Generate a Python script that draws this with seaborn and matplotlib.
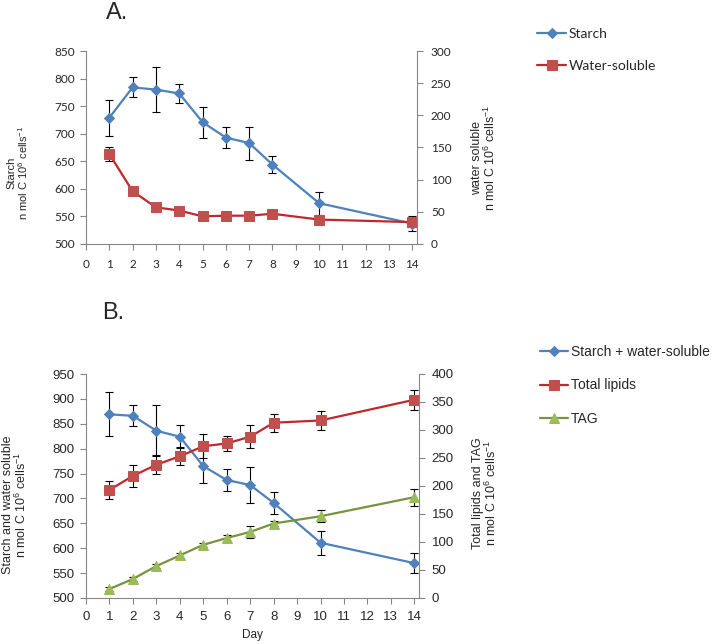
import matplotlib
matplotlib.use('Agg')
import matplotlib.pyplot as plt
import seaborn as sns

# Days sampled
days = [1, 2, 3, 4, 5, 6, 7, 8, 10, 14]

# Panel A
starch = [729, 784, 780, 773, 721, 693, 683, 644, 574, 537]
starch_err = [33, 18, 41, 18, 28, 19, 30, 16, 21, 14]
water_soluble = [140, 82, 57, 52, 43, 44, 44, 47, 38, 34]
water_soluble_err = [11, 4, 7.5, 3, 2, 2, 2, 2, 3, 7]

# Panel B
starch_ws = [869, 866, 836, 824, 765, 737, 727, 691, 611, 570]
starch_ws_err = [44, 21, 51, 23, 33, 22, 36, 22, 24, 20]
total_lipids = [193, 218, 238, 253, 271, 276, 288, 313, 317, 354]
total_lipids_err = [15.5, 19, 16.5, 16, 21.7, 13, 21, 16, 17, 18]
tag = [16, 34, 57, 76, 95, 107, 118, 133, 146, 180]
tag_err = [4, 3, 3, 4, 4, 6, 11, 4, 11, 15]

sns.set_style('white')
plt.rcParams['font.family'] = ['Liberation Sans', 'DejaVu Sans']
plt.rcParams['mathtext.fontset'] = 'custom'
plt.rcParams['mathtext.rm'] = 'Liberation Sans'

BLUE = '#4F81BD'
RED_LINE, RED = '#C0282D', '#C0504D'
GREEN_LINE, GREEN = '#77933C', '#9BBB59'
GRAY = '#868686'

fig = plt.figure(figsize=(7.14, 6.44), dpi=100)
W, H = 714, 644


def axes_px(left, top, right, bottom):
    return fig.add_axes([left / W, 1 - bottom / H, (right - left) / W, (bottom - top) / H])


def style(ax, side, tickfont, tsize):
    for s in ax.spines.values():
        s.set_visible(False)
    ax.spines[side].set_visible(True)
    ax.spines[side].set_color(GRAY)
    ax.tick_params(axis='y', which='both', color=GRAY, length=4, width=0.8,
                   direction='out', labelsize=tsize, pad=4)
    for lab in ax.get_yticklabels():
        lab.set_family(tickfont)
    ax.grid(False)


def series(ax, y, err, color, line, marker, ms, label):
    ax.errorbar(days, y, yerr=err, fmt='none', ecolor='black', elinewidth=0.8,
                capsize=3, capthick=0.8, zorder=1)
    sns.lineplot(x=days, y=y, ax=ax, color=line, marker=marker, markersize=ms,
                 markerfacecolor=color, markeredgecolor=color, linewidth=1.6,
                 label=label, legend=False, zorder=2)
    return ax.lines[-1]


ylab = 'n mol C 10$^{\\mathrm{6}}$ cells$^{\\mathrm{-1}}$'

# ---------- Panel A ----------
axA = axes_px(86, 51, 417, 244)
axA2 = axA.twinx()
l1 = series(axA, starch, starch_err, BLUE, BLUE, 'D', 5, 'Starch')
l2 = series(axA2, water_soluble, water_soluble_err, RED, RED_LINE, 's', 7.5, 'Water-soluble')
axA.set_ylim(500, 850)
axA.set_yticks(range(500, 851, 50))
axA2.set_ylim(0, 300)
axA2.set_yticks(range(0, 301, 50))
axA.set_xlim(0, 14.2)
axA.set_xticks(range(0, 15))
style(axA, 'left', 'Lato', 8.5)
axA.spines['bottom'].set_visible(True)
axA.spines['bottom'].set_color(GRAY)
axA.tick_params(axis='x', color=GRAY, length=4, width=0.8, direction='out',
                labelsize=8.5, pad=7, bottom=True)
for lab in axA.get_xticklabels():
    lab.set_family('Lato')
style(axA2, 'right', 'Lato', 8.5)
axA2.tick_params(axis='y', pad=6)
axA.set_ylabel('Starch\n' + ylab, fontsize=8, linespacing=1.0)
axA.yaxis.set_label_coords(-0.169, 0.368)
axA2.set_ylabel('water soluble\n' + ylab, fontsize=9, linespacing=1.0)
axA2.yaxis.set_label_coords(1.163, 0.446)
fig.text(106 / W, 1 - 2 / H, 'A.', fontsize=17, va='top', ha='left')

fig.legend([l1, l2], ['Starch', 'Water-soluble'], loc='upper left',
           bbox_to_anchor=(537 / W, 1 - 28 / H), frameon=False, borderpad=0,
           borderaxespad=0, handlelength=2.1, handletextpad=0.2, labelspacing=1.45,
           prop={'family': 'Lato', 'size': 10})

# ---------- Panel B ----------
axB = axes_px(86, 374, 419, 598)
axB2 = axB.twinx()
m1 = series(axB, starch_ws, starch_ws_err, BLUE, BLUE, 'D', 5, 'Starch + water-soluble')
m2 = series(axB2, total_lipids, total_lipids_err, RED, RED_LINE, 's', 7.5, 'Total lipids')
m3 = series(axB2, tag, tag_err, GREEN, GREEN_LINE, '^', 7, 'TAG')
axB.set_ylim(500, 950)
axB.set_yticks(range(500, 951, 50))
axB2.set_ylim(0, 400)
axB2.set_yticks(range(0, 401, 50))
axB.set_xlim(0, 14.2)
axB.set_xticks(range(0, 15))
style(axB, 'left', 'Liberation Sans', 9.5)
axB.spines['bottom'].set_visible(True)
axB.spines['bottom'].set_color(GRAY)
axB.tick_params(axis='x', color=GRAY, length=4, width=0.8, direction='out',
                labelsize=9.5, pad=5, bottom=True)
style(axB2, 'right', 'Liberation Sans', 9.5)
axB2.tick_params(axis='y', pad=5)
axB.set_xlabel('Day', fontsize=8.5, labelpad=5)
axB.set_ylabel('Starch and water soluble\n' + ylab, fontsize=9, linespacing=0.95)
axB.yaxis.set_label_coords(-0.171, 0.415)
axB2.set_ylabel('Total lipids and TAG\n' + ylab, fontsize=9, linespacing=0.95)
axB2.yaxis.set_label_coords(1.159, 0.47)
fig.text(102 / W, 1 - 302 / H, 'B.', fontsize=17, va='top', ha='left')

fig.legend([m1, m2, m3], ['Starch + water-soluble', 'Total lipids', 'TAG'], loc='upper left',
           bbox_to_anchor=(540 / W, 1 - 345 / H), frameon=False, borderpad=0,
           borderaxespad=0, handlelength=2.0, handletextpad=0.2, labelspacing=1.4,
           prop={'family': 'Liberation Sans', 'size': 10})

fig.savefig('out.png', dpi=100)
